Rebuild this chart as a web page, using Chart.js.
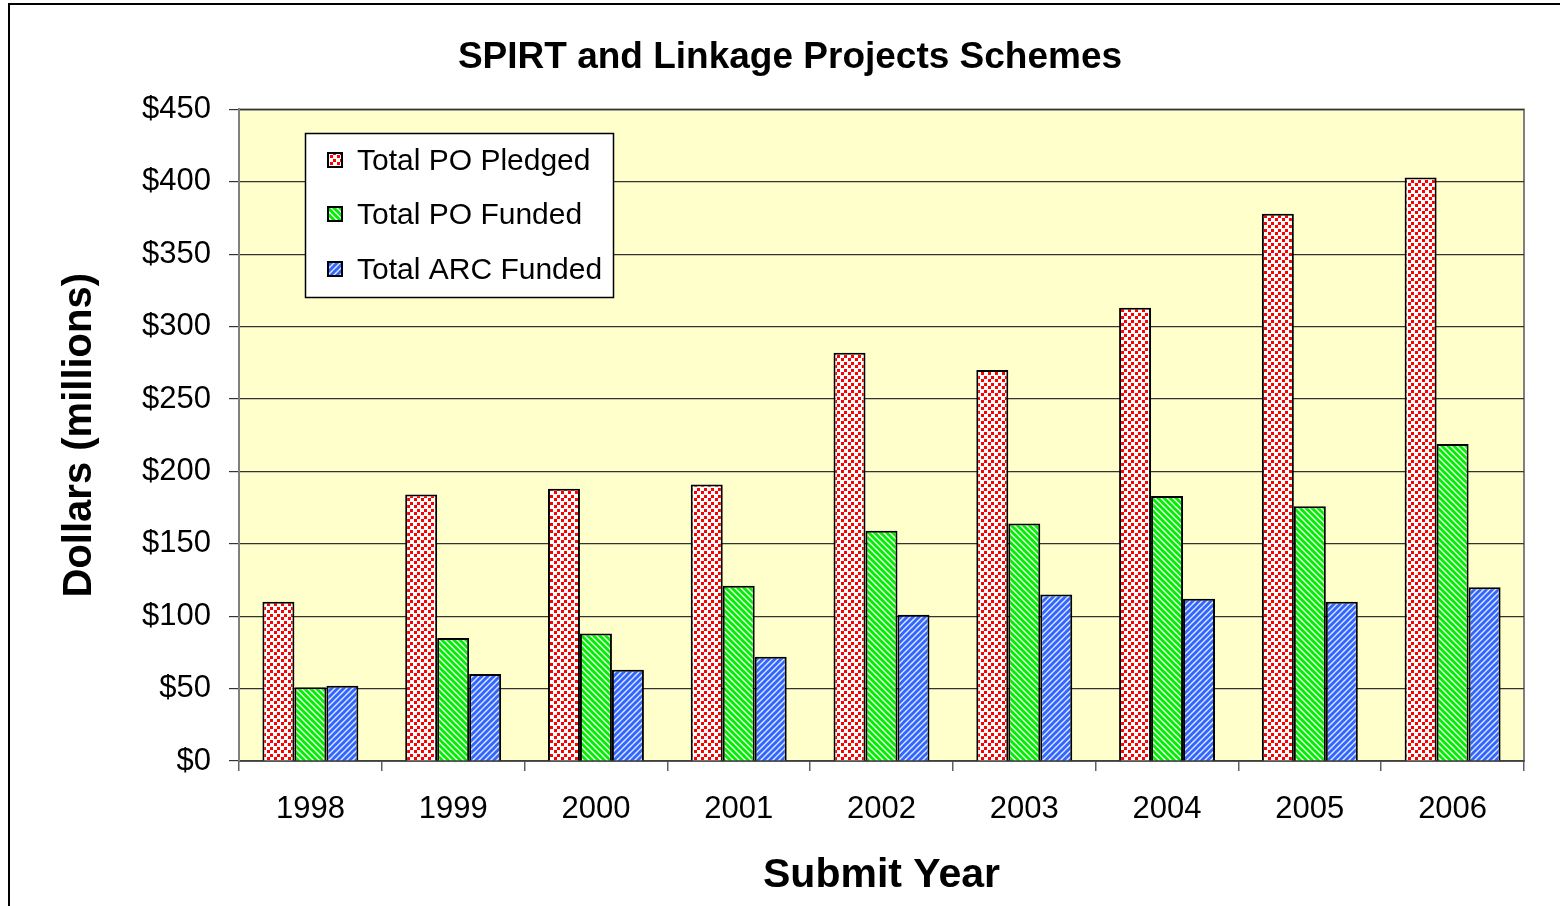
<!DOCTYPE html>
<html>
<head>
<meta charset="utf-8">
<script src="https://cdn.jsdelivr.net/npm/chart.js@4"></script>
<style>
  html, body { margin: 0; padding: 0; background: #fff; }
  #wrap { width: 1560px; height: 906px; }
</style>
</head>
<body>
<div id="wrap"><canvas id="spirtChart" width="1560" height="906"></canvas></div>
<script>
// data ($ millions)
const years = ['1998', '1999', '2000', '2001', '2002', '2003', '2004', '2005', '2006'];
const poPledged = [110, 184, 188, 191, 282, 270, 313, 378, 403];
const poFunded = [51, 85, 88, 121, 159, 164, 183, 176, 219];
const arcFunded = [52, 60, 63, 72, 101, 115, 112, 110, 120];
const seriesNames = ['Total PO Pledged', 'Total PO Funded', 'Total ARC Funded'];

const FONT = "'Liberation Sans', Arial, sans-serif";

// fill patterns like the old Excel chart
function makePattern(kind) {
    const c = document.createElement('canvas');
    const p = c.getContext('2d');
    if (kind === 'dots') {
        c.width = 7; c.height = 7;
        p.fillStyle = '#ffffff'; p.fillRect(0, 0, 7, 7);
        p.fillStyle = '#ff0000';
        p.fillRect(1, 1, 3, 3);
        p.fillRect(4, 5, 3, 2);
        p.fillRect(4, 0, 3, 1);
    } else {
        c.width = 6; c.height = 6;
        p.fillStyle = kind === 'green' ? '#ffffff' : '#e4eeff';
        p.fillRect(0, 0, 6, 6);
        p.strokeStyle = kind === 'green' ? '#00ee00' : '#3366ff';
        p.lineWidth = 3;
        for (let k = -1; k <= 2; k++) {
            p.beginPath();
            if (kind === 'green') { p.moveTo(-1, k * 6 - 1); p.lineTo(7, k * 6 + 7); }
            else { p.moveTo(-1, k * 6 + 1); p.lineTo(7, k * 6 - 7); }
            p.stroke();
        }
    }
    return p.createPattern(c, 'repeat');
}

const fills = [makePattern('dots'), makePattern('green'), makePattern('blue')];

// yellow plot area + outer frame
const backdrop = {
    id: 'backdrop',
    beforeDraw(chart) {
        const { ctx, chartArea: a } = chart;
        ctx.save();
        ctx.fillStyle = '#ffffcc';
        ctx.fillRect(a.left, a.top, a.right - a.left, a.bottom - a.top);
        ctx.strokeStyle = '#808080';
        ctx.lineWidth = 2;
        ctx.strokeRect(a.left, a.top, a.right - a.left, a.bottom - a.top);
        ctx.strokeStyle = '#000';
        ctx.lineWidth = 2;
        ctx.beginPath();
        ctx.moveTo(9, 906);
        ctx.lineTo(9, 4);
        ctx.lineTo(1560, 4);
        ctx.stroke();
        ctx.restore();
    }
};

// boxed legend inside the plot
const boxLegend = {
    id: 'boxLegend',
    afterDraw(chart) {
        const ctx = chart.ctx;
        ctx.save();
        ctx.fillStyle = '#fff';
        ctx.fillRect(305, 133, 309, 165);
        ctx.strokeStyle = '#000';
        ctx.lineWidth = 1.5;
        ctx.strokeRect(305.5, 133.5, 308, 164);
        ctx.font = '30px ' + FONT;
        ctx.textBaseline = 'middle';
        const rows = [160, 214, 269];
        chart.data.datasets.forEach((ds, i) => {
            ctx.fillStyle = ds.backgroundColor;
            ctx.fillRect(328, rows[i] - 7, 14, 14);
            ctx.strokeStyle = '#000';
            ctx.lineWidth = 2;
            ctx.strokeRect(328, rows[i] - 7, 14, 14);
            ctx.fillStyle = '#000';
            ctx.fillText(ds.label, 357, rows[i] + 2);
        });
        ctx.restore();
    }
};

const ctx = document.getElementById('spirtChart').getContext('2d');
new Chart(ctx, {
    type: 'bar',
    data: {
        labels: years,
        datasets: [poPledged, poFunded, arcFunded].map((vals, i) => ({
            label: seriesNames[i],
            data: vals,
            backgroundColor: fills[i],
            borderColor: '#000',
            borderWidth: 2,
            categoryPercentage: 0.672,
            barPercentage: 1.0
        }))
    },
    options: {
        responsive: false,
        animation: false,
        layout: { padding: { left: 56, right: 36, top: 0, bottom: 0 } },
        scales: {
            x: {
                afterFit(s) { s.height = 145; },
                grid: { drawOnChartArea: false, tickLength: 10, color: '#606060', lineWidth: 1.5 },
                border: { color: '#404040', width: 1.5 },
                ticks: { color: '#000', font: { family: FONT, size: 31 }, padding: 20 },
                title: {
                    display: true,
                    text: 'Submit Year',
                    color: '#000',
                    font: { family: FONT, size: 41, weight: 'bold' },
                    padding: { top: 0, bottom: 6 }
                }
            },
            y: {
                min: 0,
                max: 450,
                afterFit(s) { s.width = 183; },
                grid: { color: '#333', lineWidth: 1.2, tickLength: 10 },
                border: { color: '#808080', width: 2 },
                ticks: {
                    stepSize: 50,
                    color: '#000',
                    padding: 18,
                    font: { family: FONT, size: 31 },
                    callback: v => '$' + v
                },
                title: {
                    display: true,
                    text: 'Dollars (millions)',
                    color: '#000',
                    font: { family: FONT, size: 40, weight: 'bold' },
                    padding: { top: 0, bottom: 0 }
                }
            }
        },
        plugins: {
            legend: { display: false },
            tooltip: { enabled: false },
            title: {
                display: true,
                text: 'SPIRT and Linkage Projects Schemes',
                color: '#000',
                font: { family: FONT, size: 37, weight: 'bold' },
                padding: { top: 36, bottom: 29 }
            }
        }
    },
    plugins: [backdrop, boxLegend]
});
</script>
</body>
</html>
